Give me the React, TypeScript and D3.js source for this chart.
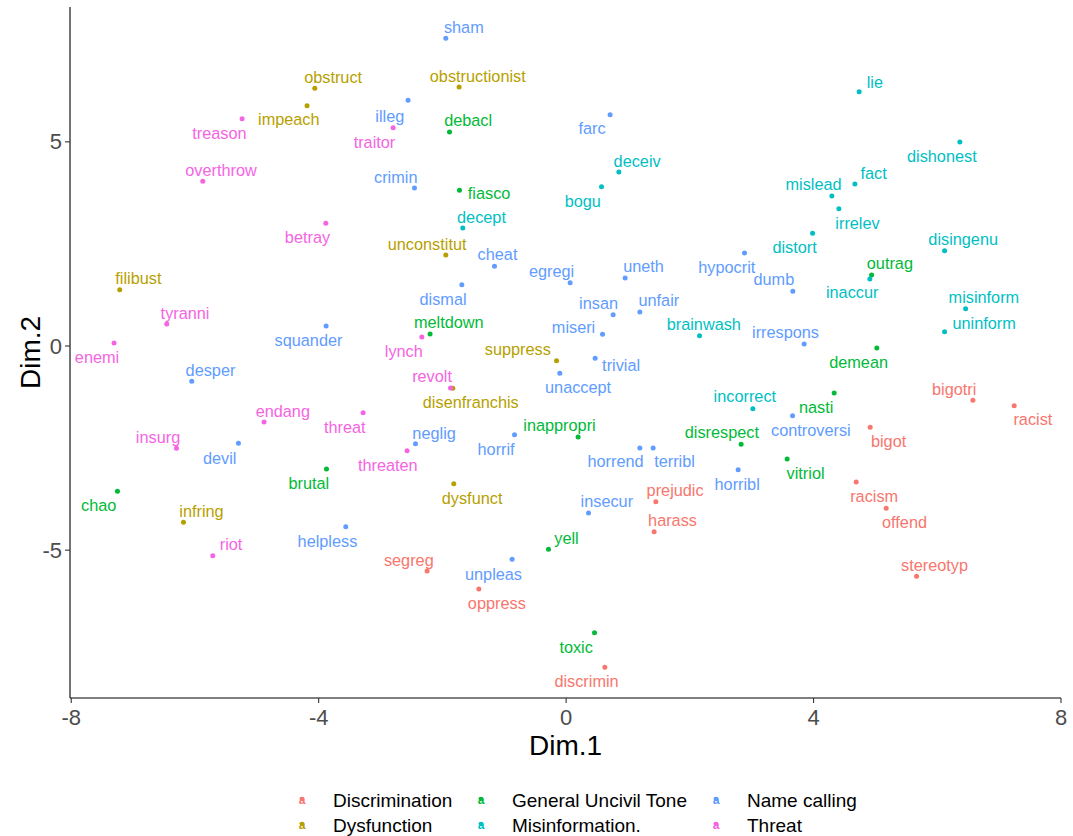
import React from "react";
import * as d3 from "d3";

// ---- data (Dim.1, Dim.2 of each word, plus repelled label position in data units) ----
const categories = [
  "Discrimination",
  "Dysfunction",
  "General Uncivil Tone",
  "Misinformation.",
  "Name calling",
  "Threat",
];
const categoryColors = ["#F8766D", "#B79F00", "#00BA38", "#00BFC4", "#619CFF", "#F564E3"];
const xTicks = [-8, -4, 0, 4, 8];
const yTicks = [-5, 0, 5];

type Row = [string, number, number, number, number];

const discrimination: Row[] = [
  ["bigotri", 6.576, -1.33, 6.273, -1.046],
  ["racist", 7.243, -1.462, 7.546, -1.795],
  ["bigot", 4.915, -1.991, 5.213, -2.319],
  ["prejudic", 1.45, -3.813, 1.762, -3.527],
  ["harass", 1.423, -4.548, 1.72, -4.269],
  ["racism", 4.689, -3.331, 4.98, -3.674],
  ["offend", 5.174, -3.975, 5.471, -4.318],
  ["stereotyp", 5.665, -5.64, 5.956, -5.364],
  ["segreg", -2.247, -5.511, -2.543, -5.234],
  ["oppress", -1.411, -5.951, -1.12, -6.302],
  ["discrimin", 0.626, -7.869, 0.33, -8.212],
];

const dysfunction: Row[] = [
  ["obstruct", -4.063, 6.312, -3.767, 6.596],
  ["impeach", -4.188, 5.885, -4.483, 5.56],
  ["obstructionist", -1.73, 6.343, -1.428, 6.62],
  ["filibust", -7.216, 1.379, -6.914, 1.673],
  ["unconstitut", -1.945, 2.229, -2.247, 2.498],
  ["suppress", -0.155, -0.36, -0.781, -0.073],
  ["disenfranchis", -1.832, -1.036, -1.541, -1.372],
  ["dysfunct", -1.816, -3.372, -1.52, -3.715],
  ["infring", -6.186, -4.318, -5.895, -4.034],
];

const uncivilTone: Row[] = [
  ["debacl", -1.885, 5.241, -1.584, 5.535],
  ["fiasco", -1.724, 3.813, -1.245, 3.74],
  ["outrag", 4.938, 1.739, 5.234, 2.025],
  ["meltdown", -2.199, 0.294, -1.897, 0.58],
  ["demean", 5.023, -0.049, 4.728, -0.399],
  ["nasti", 4.333, -1.151, 4.042, -1.487],
  ["inappropri", 0.194, -2.229, -0.107, -1.928],
  ["disrespect", 2.829, -2.408, 2.517, -2.106],
  ["vitriol", 3.573, -2.768, 3.871, -3.118],
  ["brutal", -3.874, -3.013, -4.16, -3.363],
  ["chao", -7.253, -3.559, -7.555, -3.902],
  ["yell", -0.285, -4.979, 0.006, -4.71],
  ["toxic", 0.459, -7.022, 0.162, -7.372],
];

const misinformation: Row[] = [
  ["lie", 4.737, 6.228, 4.991, 6.473],
  ["dishonest", 6.365, 4.996, 6.074, 4.653],
  ["fact", 4.668, 3.968, 4.97, 4.244],
  ["mislead", 4.296, 3.674, 4.0, 3.968],
  ["irrelev", 4.409, 3.363, 4.711, 3.005],
  ["distort", 3.984, 2.76, 3.693, 2.417],
  ["disingenu", 6.118, 2.334, 6.419, 2.613],
  ["deceiv", 0.852, 4.262, 1.148, 4.538],
  ["bogu", 0.572, 3.902, 0.27, 3.559],
  ["decept", -1.67, 2.89, -1.368, 3.167],
  ["inaccur", 4.91, 1.641, 4.624, 1.315],
  ["misinform", 6.458, 0.914, 6.753, 1.2],
  ["uninform", 6.118, 0.35, 6.758, 0.571],
  ["brainwash", 2.157, 0.252, 2.226, 0.539],
  ["incorrect", 3.019, -1.536, 2.889, -1.225],
];

const nameCalling: Row[] = [
  ["sham", -1.945, 7.536, -1.654, 7.82],
  ["illeg", -2.555, 6.018, -2.85, 5.634],
  ["crimin", -2.451, 3.87, -2.754, 4.147],
  ["farc", 0.711, 5.665, 0.42, 5.332],
  ["cheat", -1.158, 1.952, -1.109, 2.246],
  ["dismal", -1.686, 1.501, -1.989, 1.144],
  ["egregi", 0.065, 1.55, -0.236, 1.83],
  ["uneth", 0.954, 1.665, 1.251, 1.959],
  ["hypocrit", 2.884, 2.278, 2.598, 1.935],
  ["dumb", 3.665, 1.34, 3.358, 1.634],
  ["insan", 0.76, 0.767, 0.524, 1.06],
  ["unfair", 1.192, 0.833, 1.499, 1.127],
  ["squander", -3.88, 0.49, -4.165, 0.147],
  ["miseri", 0.589, 0.287, 0.12, 0.473],
  ["irrespons", 3.848, 0.049, 3.547, 0.343],
  ["trivial", 0.469, -0.301, 0.889, -0.458],
  ["unaccept", -0.102, -0.669, 0.194, -1.012],
  ["desper", -6.052, -0.865, -5.749, -0.588],
  ["controversi", 3.661, -1.707, 3.956, -2.057],
  ["neglig", -2.435, -2.393, -2.134, -2.123],
  ["horrif", -0.834, -2.172, -1.132, -2.515],
  ["horrend", 1.192, -2.498, 0.799, -2.824],
  ["terribl", 1.407, -2.498, 1.753, -2.824],
  ["devil", -5.297, -2.383, -5.599, -2.743],
  ["horribl", 2.781, -3.03, 2.765, -3.373],
  ["insecur", 0.362, -4.09, 0.658, -3.804],
  ["helpless", -3.562, -4.426, -3.858, -4.776],
  ["unpleas", -0.873, -5.224, -1.174, -5.584],
];

const threat: Row[] = [
  ["treason", -5.238, 5.567, -5.604, 5.209],
  ["traitor", -2.797, 5.347, -3.098, 5.004],
  ["overthrow", -5.874, 4.034, -5.578, 4.311],
  ["betray", -3.885, 3.005, -4.181, 2.677],
  ["tyranni", -6.456, 0.539, -6.16, 0.816],
  ["enemi", -7.308, 0.073, -7.583, -0.269],
  ["lynch", -2.333, 0.22, -2.624, -0.13],
  ["revolt", -1.869, -1.029, -2.167, -0.735],
  ["endang", -4.883, -1.861, -4.58, -1.592],
  ["threat", -3.282, -1.634, -3.578, -1.976],
  ["insurg", -6.299, -2.505, -6.597, -2.221],
  ["threaten", -2.571, -2.564, -2.883, -2.915],
  ["riot", -5.712, -5.136, -5.416, -4.849],
];

const groups: Row[][] = [discrimination, dysfunction, uncivilTone, misinformation, nameCalling, threat];

// ---- layout ----
const W = 1073;
const H = 836;
const left = 70;
const right = 1061;
const top = 7;
const bottom = 698;
const FONT = "'Liberation Sans', Arial, Helvetica, sans-serif";

export default function App() {
  const x = d3.scaleLinear().domain([-8.02, 8.0]).range([left, right]);
  const y = d3.scaleLinear().domain([-8.621, 8.303]).range([bottom, top]);
  const color = d3.scaleOrdinal<string, string>().domain(categories).range(categoryColors);

  const points = groups.flatMap((rows, gi) =>
    rows.map((r) => ({ word: r[0], d1: r[1], d2: r[2], l1: r[3], l2: r[4], cat: categories[gi] }))
  );

  // legend: 3 columns x 2 rows, filled by column
  const legendColX = [302, 481, 716];
  const legendRowY = [800, 825];

  return (
    <svg
      width={W}
      height={H}
      style={{ position: "absolute", left: 0, top: 0, display: "block", background: "#fff" }}
      fontFamily={FONT}
    >
      <rect x={0} y={0} width={W} height={H} fill="#fff" />
      {/* points */}
      <g>
        {points.map((p, i) => (
          <circle key={"p" + i} cx={x(p.d1)} cy={y(p.d2)} r={2.5} fill={color(p.cat)} />
        ))}
      </g>
      {/* labels */}
      <g fontSize={16.3} textAnchor="middle" dominantBaseline="central">
        {points.map((p, i) => (
          <text key={"t" + i} x={x(p.l1)} y={y(p.l2)} fill={color(p.cat)}>
            {p.word}
          </text>
        ))}
      </g>
      {/* axes */}
      <line x1={left} x2={left} y1={top} y2={bottom} stroke="#000" strokeWidth={1.1} />
      <line x1={left} x2={right} y1={bottom} y2={bottom} stroke="#000" strokeWidth={1.1} />
      {yTicks.map((t) => (
        <g key={"yt" + t}>
          <line x1={left - 5} x2={left} y1={y(t)} y2={y(t)} stroke="#333" strokeWidth={1.1} />
          <text
            x={left - 8}
            y={y(t)}
            textAnchor="end"
            dominantBaseline="central"
            fontSize={22}
            fill="#4D4D4D"
          >
            {t}
          </text>
        </g>
      ))}
      {xTicks.map((t) => (
        <g key={"xt" + t}>
          <line x1={x(t)} x2={x(t)} y1={bottom} y2={bottom + 5} stroke="#333" strokeWidth={1.1} />
          <text x={x(t)} y={717} textAnchor="middle" dominantBaseline="central" fontSize={22} fill="#4D4D4D">
            {t}
          </text>
        </g>
      ))}
      <text x={(left + right) / 2} y={745} textAnchor="middle" dominantBaseline="central" fontSize={28} fill="#000">
        Dim.1
      </text>
      <text
        transform={`translate(30,${(top + bottom) / 2}) rotate(-90)`}
        textAnchor="middle"
        dominantBaseline="central"
        fontSize={28}
        fill="#000"
      >
        Dim.2
      </text>
      {/* legend */}
      <g>
        {categories.map((c, i) => {
          const col = Math.floor(i / 2);
          const row = i % 2;
          const kx = legendColX[col];
          const ky = legendRowY[row];
          return (
            <g key={"lg" + i}>
              <text
                x={kx}
                y={ky}
                textAnchor="middle"
                dominantBaseline="central"
                fontSize={12}
                fontWeight="bold"
                fill={color(c)}
              >
                a
              </text>
              <circle cx={kx} cy={ky - 1} r={2.3} fill={color(c)} />
              <text x={kx + 31} y={ky} dominantBaseline="central" fontSize={19} fill="#000">
                {c}
              </text>
            </g>
          );
        })}
      </g>
    </svg>
  );
}
